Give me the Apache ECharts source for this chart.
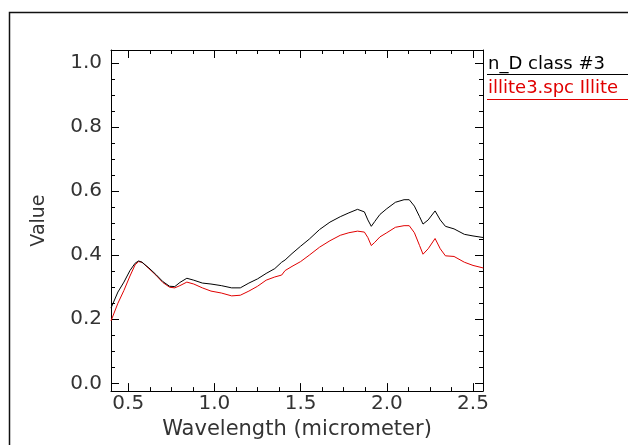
<!DOCTYPE html>
<html>
<head>
<meta charset="utf-8">
<script src="https://cdn.jsdelivr.net/npm/echarts@6/dist/echarts.min.js"></script>
<style>
  html, body { margin: 0; padding: 0; background: #fff; }
  #chart { width: 628px; height: 445px; }
</style>
</head>
<body>
<div id="chart"></div>
<script>
// wavelength samples (micrometer)
const wavelengths = [0.40, 0.44, 0.475, 0.51, 0.54, 0.56, 0.58, 0.62, 0.66, 0.70, 0.74, 0.77, 0.80, 0.84, 0.88, 0.93, 0.98, 1.04, 1.10, 1.15, 1.20, 1.25, 1.30, 1.35, 1.39, 1.41, 1.45, 1.50, 1.55, 1.61, 1.67, 1.73, 1.78, 1.83, 1.87, 1.89, 1.91, 1.93, 1.96, 2.00, 2.05, 2.10, 2.13, 2.16, 2.19, 2.21, 2.24, 2.28, 2.31, 2.34, 2.39, 2.45, 2.50, 2.56]
// n_D class #3 (black)
const classValues = [0.235, 0.285, 0.316, 0.352, 0.375, 0.382, 0.378, 0.36, 0.34, 0.318, 0.303, 0.302, 0.315, 0.328, 0.322, 0.313, 0.31, 0.305, 0.298, 0.298, 0.313, 0.326, 0.343, 0.358, 0.378, 0.385, 0.405, 0.428, 0.45, 0.48, 0.503, 0.52, 0.532, 0.543, 0.535, 0.51, 0.49, 0.505, 0.527, 0.545, 0.565, 0.573, 0.573, 0.553, 0.52, 0.497, 0.51, 0.538, 0.51, 0.49, 0.482, 0.465, 0.46, 0.455]
// illite3.spc (red)
const illiteValues = [0.195, 0.25, 0.29, 0.335, 0.37, 0.38, 0.378, 0.358, 0.338, 0.315, 0.30, 0.298, 0.305, 0.316, 0.31, 0.298, 0.288, 0.282, 0.273, 0.275, 0.288, 0.303, 0.322, 0.332, 0.338, 0.352, 0.365, 0.38, 0.40, 0.425, 0.445, 0.462, 0.47, 0.475, 0.472, 0.455, 0.43, 0.44, 0.457, 0.47, 0.487, 0.492, 0.492, 0.47, 0.43, 0.403, 0.42, 0.452, 0.42, 0.398, 0.396, 0.378, 0.368, 0.36]

const seriesNames = ['n_D class #3', 'illite3.spc Illite']
const seriesColors = ['#000000', '#e00000']

// ticks
const xMajorTicks = [0.5, 1.0, 1.5, 2.0, 2.5]
const xMinorTicks = [0.625, 0.75, 0.875, 1.125, 1.25, 1.375, 1.625, 1.75, 1.875, 2.125, 2.25, 2.375]
const yMajorTicks = [0.0, 0.2, 0.4, 0.6, 0.8, 1.0]
const yMinorTicks = [0.05, 0.1, 0.15, 0.25, 0.3, 0.35, 0.45, 0.5, 0.55, 0.65, 0.7, 0.75, 0.85, 0.9, 0.95]

const xRange = [0.4, 2.558]
const yRange = [-0.024, 1.04]

const font = 'DejaVu Sans'
const textColor = '#333'

const chart = echarts.init(document.getElementById('chart'))

const line = { show: true, onZero: false, lineStyle: { color: '#000', width: 1 } }
const noLine = { show: false, onZero: false }

const makeX = (position, ticks, len, showLine, showLabel) => ({
  type: 'value',
  position,
  min: xRange[0],
  max: xRange[1],
  axisLine: showLine ? line : noLine,
  axisTick: { show: true, inside: true, length: len, customValues: ticks, lineStyle: { color: '#000', width: 1 } },
  axisLabel: showLabel
    ? { show: true, customValues: ticks, formatter: v => v.toFixed(1), color: textColor, fontFamily: font, fontSize: 20, margin: 3 }
    : { show: false },
  splitLine: { show: false }
})

const makeY = (position, ticks, len, showLine, showLabel) => ({
  type: 'value',
  position,
  min: yRange[0],
  max: yRange[1],
  axisLine: showLine ? line : noLine,
  axisTick: { show: true, inside: true, length: len, customValues: ticks, lineStyle: { color: '#000', width: 1 } },
  axisLabel: showLabel
    ? { show: true, customValues: ticks, formatter: v => v.toFixed(1), color: textColor, fontFamily: font, fontSize: 20, margin: 9 }
    : { show: false },
  splitLine: { show: false }
})

const xAxes = [
  makeX('bottom', xMajorTicks, 8, true, true),
  makeX('bottom', xMinorTicks, 4, false, false),
  makeX('top', xMajorTicks, 8, true, false),
  makeX('top', xMinorTicks, 4, false, false)
]
Object.assign(xAxes[0], {
  name: 'Wavelength (micrometer)',
  nameLocation: 'middle',
  nameGap: 24,
  nameTextStyle: { color: textColor, fontFamily: font, fontSize: 21, verticalAlign: 'top' }
})

const yAxes = [
  makeY('left', yMajorTicks, 8, true, true),
  makeY('left', yMinorTicks, 4, false, false),
  makeY('right', yMajorTicks, 8, true, false),
  makeY('right', yMinorTicks, 4, false, false)
]
Object.assign(yAxes[0], {
  name: 'Value',
  nameLocation: 'middle',
  nameGap: 62,
  nameTextStyle: { color: textColor, fontFamily: font, fontSize: 19 }
})

const toPairs = vals => wavelengths.map((w, i) => [w, vals[i]])

chart.setOption({
  animation: false,
  backgroundColor: '#fff',
  grid: { left: 111, top: 50, width: 372, height: 350 },
  xAxis: xAxes,
  yAxis: yAxes,
  series: [
    {
      name: seriesNames[1],
      type: 'line',
      data: toPairs(illiteValues),
      showSymbol: false,
      lineStyle: { color: seriesColors[1], width: 1 },
      itemStyle: { color: seriesColors[1] }
    },
    {
      name: seriesNames[0],
      type: 'line',
      data: toPairs(classValues),
      showSymbol: false,
      lineStyle: { color: seriesColors[0], width: 1 },
      itemStyle: { color: seriesColors[0] }
    }
  ],
  graphic: [
    // outer frame
    { type: 'rect', shape: { x: 9.5, y: 12.5, width: 700, height: 500 }, style: { fill: 'none', stroke: '#111', lineWidth: 1.5 } },
    // legend entries
    { type: 'text', left: 488, top: 55, style: { text: seriesNames[0], fill: seriesColors[0], font: '18px ' + font } },
    { type: 'line', shape: { x1: 487, y1: 74.5, x2: 640, y2: 74.5 }, style: { stroke: seriesColors[0], lineWidth: 1 } },
    { type: 'text', left: 488, top: 79, style: { text: seriesNames[1], fill: seriesColors[1], font: '18px ' + font } },
    { type: 'line', shape: { x1: 487, y1: 99.5, x2: 640, y2: 99.5 }, style: { stroke: seriesColors[1], lineWidth: 1 } }
  ]
})
</script>
</body>
</html>
